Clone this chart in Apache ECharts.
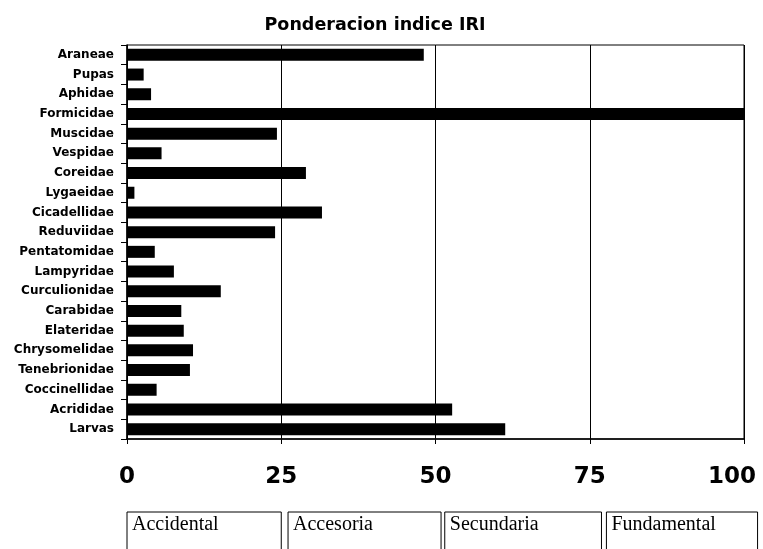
<!DOCTYPE html>
<html>
<head>
<meta charset="utf-8">
<script src="https://cdn.jsdelivr.net/npm/echarts@6/dist/echarts.min.js"></script>
<style>
  html, body { margin: 0; padding: 0; background: #fff; }
  #main { width: 763px; height: 549px; }
</style>
</head>
<body>
<div id="main"></div>
<script>
// familias, de arriba hacia abajo
const familias = ['Araneae', 'Pupas', 'Aphidae', 'Formicidae', 'Muscidae', 'Vespidae', 'Coreidae',
  'Lygaeidae', 'Cicadellidae', 'Reduviidae', 'Pentatomidae', 'Lampyridae', 'Curculionidae',
  'Carabidae', 'Elateridae', 'Chrysomelidae', 'Tenebrionidae', 'Coccinellidae', 'Acrididae', 'Larvas'];
const iri = [48.1, 2.7, 3.9, 100, 24.3, 5.6, 29.0, 1.2, 31.6, 24.0, 4.5, 7.6, 15.2,
  8.8, 9.2, 10.7, 10.2, 4.8, 52.7, 61.3];
const xTicks = [0, 25, 50, 75, 100];
const categorias = ['Accidental', 'Accesoria', 'Secundaria', 'Fundamental'];

const myChart = echarts.init(document.getElementById('main'));

const fuenteEje = { fontFamily: 'DejaVu Sans', fontWeight: 'bold', fontSize: 23, color: '#000' };

const option = {
  animation: false,
  title: {
    text: 'Ponderacion indice IRI',
    left: 370,
    top: 11,
    textAlign: 'center',
    textStyle: { fontFamily: 'DejaVu Sans', fontWeight: 'bold', fontSize: 17.5, color: '#000' }
  },
  grid: {
    left: 127, right: 19, top: 45, bottom: 110,
    outerBoundsMode: 'none',
    containLabel: false,
    show: true, borderColor: '#000', borderWidth: 1
  },
  xAxis: {
    type: 'value',
    min: xTicks[0],
    max: xTicks[xTicks.length - 1],
    interval: 25,
    axisLine: { show: true, lineStyle: { color: '#000', width: 1.5 } },
    axisTick: { show: true, length: 5, lineStyle: { color: '#000' } },
    splitLine: { show: true, lineStyle: { color: '#000', width: 1 } },
    axisLabel: {
      margin: 27,
      ...fuenteEje,
      // el ultimo valor se corre a la izquierda para no salir del lienzo
      formatter: v => (v === xTicks[xTicks.length - 1] ? '{m|' + v + '}' : String(v)),
      rich: {
        m: { ...fuenteEje, padding: [0, 24, 0, 0] }
      }
    }
  },
  yAxis: {
    type: 'category',
    inverse: true,
    data: familias,
    axisLine: { show: true, lineStyle: { color: '#000', width: 1.5 } },
    axisTick: { show: true, length: 6, lineStyle: { color: '#000' } },
    axisLabel: {
      margin: 13,
      color: '#000',
      fontFamily: 'DejaVu Sans',
      fontWeight: 'bold',
      fontSize: 12
    }
  },
  series: [
    {
      name: 'IRI',
      type: 'bar',
      data: iri,
      barWidth: 12,
      itemStyle: { color: '#000' }
    }
  ]
};

myChart.setOption(option);

// cajas de clasificacion bajo el eje
const limites = [[0, 25], [26.1, 50.9], [51.5, 76.9], [77.7, 102.2]];
const graficos = [];
limites.forEach((l, i) => {
  const x0 = myChart.convertToPixel({ xAxisIndex: 0 }, l[0]);
  const x1 = myChart.convertToPixel({ xAxisIndex: 0 }, l[1]);
  graficos.push({
    type: 'rect',
    shape: { x: x0, y: 512, width: x1 - x0, height: 45 },
    style: { fill: '#fff', stroke: '#000', lineWidth: 1 }
  });
  graficos.push({
    type: 'text',
    x: x0 + 5,
    y: 515,
    style: {
      text: categorias[i],
      fill: '#000',
      font: '20px "Liberation Serif"'
    }
  });
});
myChart.setOption({ graphic: graficos });
</script>
</body>
</html>
